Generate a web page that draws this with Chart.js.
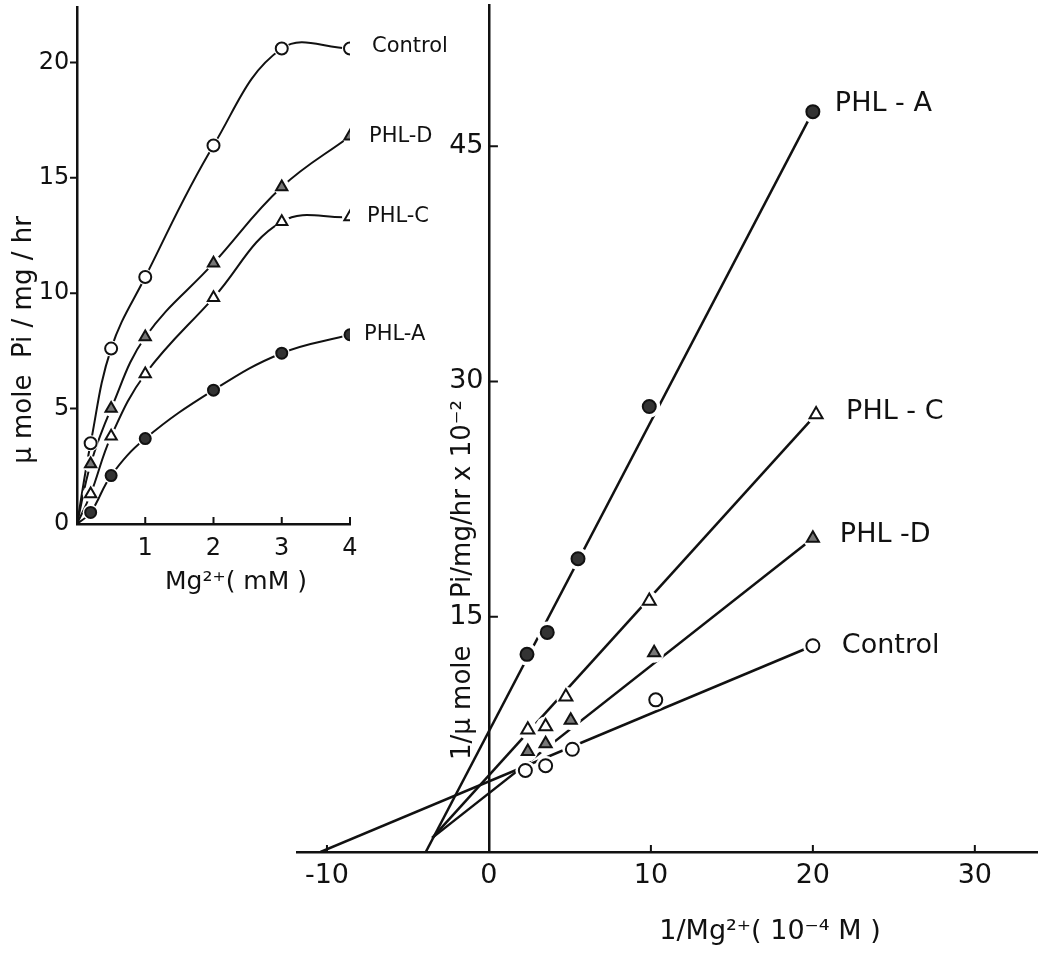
<!DOCTYPE html>
<html>
<head>
<meta charset="utf-8">
<script src="https://cdn.jsdelivr.net/npm/chart.js@4.4.1/dist/chart.umd.min.js"></script>
<style>
  body { margin: 0; background: #fff; }
  #wrap { position: relative; width: 1038px; height: 957px; }
  canvas { position: absolute; left: 0; top: 0; }
</style>
</head>
<body>
<div id="wrap">
  <canvas id="main" width="1038" height="957"></canvas>
  <canvas id="inset" width="470" height="610"></canvas>
</div>
<script>
// ─── main plot: 1/v against 1/[Mg2+] ───
const mainTicksX = [-10, 0, 10, 20, 30];
const mainTicksY = [15, 30, 45];

const recipA = [2.35, 3.6, 5.5, 9.9, 20.0];
const invA = [12.6, 14.0, 18.7, 28.4, 47.2];
const recipC = [2.4, 3.5, 4.75, 9.9, 20.2];
const invC = [7.8, 8.0, 9.9, 16.0, 27.9];
const recipD = [2.4, 3.5, 5.05, 10.2, 20.0];
const invD = [6.4, 6.9, 8.4, 12.7, 20.0];
const recipCtl = [2.25, 3.5, 5.15, 10.3, 20.0];
const invCtl = [5.2, 5.5, 6.55, 9.7, 13.15];

// drawn lines, from where they start near the x axis to the last point
const fitA = [[-3.9, 0], [20.0, 47.2]];
const fitC = [[-3.5, 0.9], [20.2, 27.9]];
const fitD = [[-3.5, 0.9], [20.0, 20.0]];
const fitCtl = [[-10.4, 0], [20.0, 13.15]];

// ─── inset: rate against [Mg2+] ───
const insetTicksX = [1, 2, 3, 4];
const insetTicksY = [0, 5, 10, 15, 20];
const mgConc = [0.2, 0.5, 1, 2, 3, 4];
const rateCtl = [3.5, 7.6, 10.7, 16.4, 20.6, 20.6];
const rateD = [2.6, 5.0, 8.1, 11.3, 14.6, 16.8];
const rateC = [1.3, 3.8, 6.5, 9.8, 13.1, 13.3];
const rateA = [0.5, 2.1, 3.7, 5.8, 7.4, 8.2];

const INK = '#111';
const FONT = 'DejaVu Sans';

function pts(xs, ys) {
  return xs.map((x, i) => ({ x, y: ys[i] }));
}

function markers(xs, ys, style, r, fill) {
  return {
    data: pts(xs, ys), showLine: false, order: 1,
    pointStyle: style, pointRadius: r, pointBackgroundColor: fill,
    pointBorderColor: INK, pointBorderWidth: 2
  };
}

// white disc under each marker, so the lines stop short of it
function halo(xs, ys, r) {
  return {
    data: pts(xs, ys), showLine: false, order: 2,
    pointStyle: 'circle', pointRadius: r, pointBackgroundColor: '#fff',
    pointBorderWidth: 0
  };
}

function line(data, width, tension) {
  return {
    data, showLine: true, order: 3, pointRadius: 0,
    borderColor: INK, borderWidth: width, tension: tension || 0
  };
}

// tick marks: x ticks point up, y ticks point right (+) or left (-)
function tickMarks(xLen, yLen) {
  return {
    id: 'tickMarks',
    afterDatasetsDraw(chart) {
      const { ctx, scales: { x, y } } = chart;
      const ax = x.getPixelForValue(0), ay = y.getPixelForValue(0);
      ctx.save();
      ctx.strokeStyle = INK;
      ctx.lineWidth = 2;
      ctx.beginPath();
      x.ticks.forEach(t => {
        if (t.value === 0) return;
        const px = x.getPixelForValue(t.value);
        ctx.moveTo(px, ay); ctx.lineTo(px, ay - xLen);
      });
      y.ticks.forEach(t => {
        if (t.value === 0) return;
        const py = y.getPixelForValue(t.value);
        ctx.moveTo(ax, py); ctx.lineTo(ax + yLen, py);
      });
      ctx.stroke();
      ctx.restore();
    }
  };
}

// series names next to their last point, plus the axis titles
function notes(labels, titles) {
  return {
    id: 'notes',
    afterDraw(chart) {
      const { ctx, scales: { x, y } } = chart;
      ctx.save();
      ctx.fillStyle = INK;
      ctx.textBaseline = 'middle';
      labels.forEach(l => {
        ctx.font = l.size + 'px "' + FONT + '"';
        ctx.textAlign = 'left';
        ctx.fillText(l.text, x.getPixelForValue(l.x) + l.dx, y.getPixelForValue(l.y) + l.dy);
      });
      titles.forEach(t => {
        ctx.save();
        ctx.font = t.size + 'px "' + FONT + '"';
        ctx.textAlign = t.align || 'center';
        ctx.translate(t.px, t.py);
        if (t.rot) ctx.rotate(-Math.PI / 2);
        ctx.fillText(t.text, 0, 0);
        ctx.restore();
      });
      ctx.restore();
    }
  };
}

function xAxis(min, max, ticks, size, pad) {
  return {
    type: 'linear', min, max, position: { y: 0 },
    grid: { display: true, drawOnChartArea: false, drawTicks: false },
    border: { display: true, color: INK, width: 2.5 },
    ticks: { color: INK, font: { family: FONT, size }, padding: pad },
    afterBuildTicks: s => { s.ticks = ticks.map(v => ({ value: v })); }
  };
}

// labels of an axis placed at x = 0 sit right against it, so a trailing
// space gives the gap; the small lineHeight keeps the axis reaching the top
function yAxis(min, max, ticks, size, gap) {
  return {
    type: 'linear', min, max, position: { x: 0 },
    grid: { display: true, drawOnChartArea: false, drawTicks: false },
    border: { display: true, color: INK, width: 2.5 },
    ticks: {
      color: INK, padding: 0,
      font: { family: FONT, size, lineHeight: 0.2 },
      callback: v => v + gap
    },
    afterBuildTicks: s => { s.ticks = ticks.map(v => ({ value: v })); }
  };
}

const last = a => a[a.length - 1];

// ─── main chart ───
new Chart(document.getElementById('main'), {
  type: 'scatter',
  data: {
    datasets: [
      line(pts(fitA.map(p => p[0]), fitA.map(p => p[1])), 2.5),
      line(pts(fitC.map(p => p[0]), fitC.map(p => p[1])), 2.5),
      line(pts(fitD.map(p => p[0]), fitD.map(p => p[1])), 2.5),
      line(pts(fitCtl.map(p => p[0]), fitCtl.map(p => p[1])), 2.5),
      halo(recipA, invA, 11), halo(recipC, invC, 10),
      halo(recipD, invD, 10), halo(recipCtl, invCtl, 10),
      markers(recipA, invA, 'circle', 6.5, '#333'),
      markers(recipC, invC, 'triangle', 7.5, '#fff'),
      markers(recipD, invD, 'triangle', 7, '#777'),
      markers(recipCtl, invCtl, 'circle', 6.5, '#fff')
    ]
  },
  options: {
    responsive: false,
    animation: false,
    events: [],
    layout: { autoPadding: false, padding: { left: 297, right: 0, top: 5, bottom: 105 } },
    plugins: { legend: { display: false }, tooltip: { enabled: false } },
    scales: {
      x: xAxis(-11.85, 33.9, mainTicksX, 27, 8),
      y: yAxis(0, 54.0, mainTicksY, 27, '\u2009')
    }
  },
  plugins: [
    tickMarks(7, 9),
    notes([
      { text: 'PHL - A', x: last(recipA), y: last(invA), dx: 22, dy: -8, size: 27 },
      { text: 'PHL - C', x: last(recipC), y: last(invC), dx: 30, dy: -2, size: 27 },
      { text: 'PHL -D', x: last(recipD), y: last(invD), dx: 27, dy: -3, size: 27 },
      { text: 'Control', x: last(recipCtl), y: last(invCtl), dx: 29, dy: 0, size: 27 }
    ], [
      { text: '1/\u03bc mole', px: 463, py: 760, rot: true, align: 'left', size: 26 },
      { text: 'Pi/mg/hr x 10\u207b\u00b2', px: 463, py: 598, rot: true, align: 'left', size: 26 },
      { text: '1/Mg\u00b2\u207a( 10\u207b\u2074 M )', px: 770, py: 932, size: 27 }
    ])
  ]
});

// ─── inset chart ───
new Chart(document.getElementById('inset'), {
  type: 'scatter',
  data: {
    datasets: [
      line([{ x: 0, y: 0 }].concat(pts(mgConc, rateCtl)), 2, 0.4),
      line([{ x: 0, y: 0 }].concat(pts(mgConc, rateD)), 2, 0.4),
      line([{ x: 0, y: 0 }].concat(pts(mgConc, rateC)), 2, 0.4),
      line([{ x: 0, y: 0 }].concat(pts(mgConc, rateA)), 2, 0.4),
      halo(mgConc, rateCtl, 8), halo(mgConc, rateD, 8),
      halo(mgConc, rateC, 8), halo(mgConc, rateA, 8),
      markers(mgConc, rateCtl, 'circle', 6, '#fff'),
      markers(mgConc, rateD, 'triangle', 6.5, '#777'),
      markers(mgConc, rateC, 'triangle', 6.5, '#fff'),
      markers(mgConc, rateA, 'circle', 5.5, '#333')
    ]
  },
  options: {
    responsive: false,
    animation: false,
    events: [],
    layout: { autoPadding: false, padding: { left: 77, right: 120, top: 7, bottom: 86 } },
    plugins: { legend: { display: false }, tooltip: { enabled: false } },
    scales: {
      x: xAxis(0, 4, insetTicksX, 24, 10),
      y: yAxis(0, 22.4, insetTicksY, 24, ' ')
    }
  },
  plugins: [
    tickMarks(7, -7),
    notes([
      { text: 'Control', x: 4, y: last(rateCtl), dx: 22, dy: -2, size: 21 },
      { text: 'PHL-D', x: 4, y: last(rateD), dx: 19, dy: 0, size: 21 },
      { text: 'PHL-C', x: 4, y: last(rateC), dx: 17, dy: 0, size: 21 },
      { text: 'PHL-A', x: 4, y: last(rateA), dx: 14, dy: 0, size: 21 }
    ], [
      { text: '\u03bc mole  Pi / mg / hr', px: 24, py: 340, rot: true, size: 26 },
      { text: 'Mg\u00b2\u207a( mM )', px: 236, py: 582, size: 25 }
    ])
  ]
});
</script>
</body>
</html>
